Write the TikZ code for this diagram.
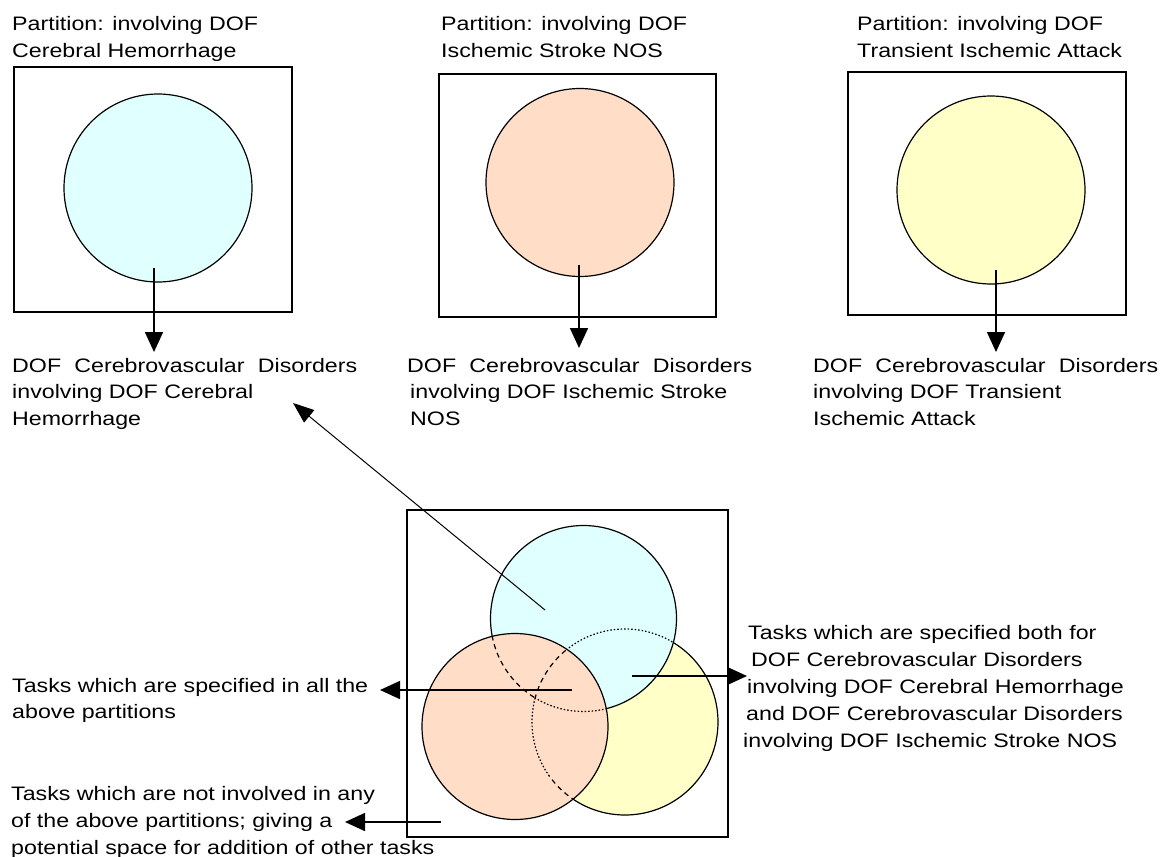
\documentclass[tikz,border=0pt]{standalone}
\usepackage{fontspec}
\setmainfont{Liberation Sans}[FakeStretch=1.19]
\usetikzlibrary{arrows.meta}
\definecolor{cblue}{RGB}{224,255,255}
\definecolor{corange}{RGB}{255,221,198}
\definecolor{cyellow}{RGB}{255,255,200}
\newcommand\lblfont{\fontsize{19.5pt}{26.8pt}\selectfont}
\tikzset{
  lbl/.style={inner sep=0pt, align=left, font=\lblfont, anchor=base west},
  framebox/.style={draw, line width=1.5pt, rectangle, inner sep=0pt},
  setcircle/.style={draw, line width=1.2pt, circle, inner sep=0pt, minimum size=188pt},
  arr/.style={line width=1.6pt, -{Triangle[length=20pt,width=18pt]}},
  thinarr/.style={line width=1pt, -{Triangle[length=21pt,width=16pt]}},
  solidedge/.style={line width=1.2pt},
  hiddendash/.style={line width=1.2pt, dash pattern=on 5pt off 4pt},
  hiddendot/.style={line width=1.2pt, dash pattern=on 1.5pt off 2pt},
}
\begin{document}
\begin{tikzpicture}[x=1pt,y=-1pt]
\useasboundingbox[fill=white] (0,0) rectangle (1163,857);

% ---- three partition panels (base anchor = baseline of last line) ----
\node[lbl] (h1) at (12,57) {Partition: involving DOF\\Cerebral Hemorrhage};
\node[lbl] (h2) at (441,57) {Partition: involving DOF\\Ischemic Stroke NOS};
\node[lbl] (h3) at (857,57) {Partition: involving DOF\\Transient Ischemic Attack};

\node[framebox, minimum width=278pt, minimum height=245pt] (p1) at (153,189.5) {};
\node[framebox, minimum width=277pt, minimum height=243pt] (p2) at (577.5,195.5) {};
\node[framebox, minimum width=278pt, minimum height=243pt] (p3) at (987,193.5) {};

\node[setcircle, fill=cblue] (c1) at (158,188) {};
\node[setcircle, fill=corange] (c2) at (580,182.5) {};
\node[setcircle, fill=cyellow] (c3) at (991,190) {};

\node[lbl] (t1) at (12,425.6) {\makebox[345pt][s]{DOF Cerebrovascular Disorders}\\involving DOF Cerebral\\Hemorrhage};
\node[lbl] (t2) at (407,425.6) {\makebox[345pt][s]{DOF Cerebrovascular Disorders}\\\hspace*{3pt}involving DOF Ischemic Stroke\\\hspace*{3pt}NOS};
\node[lbl] (t3) at (813,425.6) {\makebox[345pt][s]{DOF Cerebrovascular Disorders}\\involving DOF Transient\\Ischemic Attack};

\coordinate (s1) at (154,268); \coordinate (e1) at (154,352);
\coordinate (s2) at (579,265); \coordinate (e2) at (579,348);
\coordinate (s3) at (996,270); \coordinate (e3) at (996,352);
\draw[arr] (s1) -- (e1);
\draw[arr] (s2) -- (e2);
\draw[arr] (s3) -- (e3);

% ---- labels around the Venn diagram ----
\node[lbl] (lall) at (12,718.8) {Tasks which are specified in all the\\above partitions};
\node[lbl] (lboth) at (743,747) {\hspace*{5pt}Tasks which are specified both for\\\hspace*{8pt}DOF Cerebrovascular Disorders\\\hspace*{4pt}involving DOF Cerebral Hemorrhage\\\hspace*{3pt}and DOF Cerebrovascular Disorders\\involving DOF Ischemic Stroke NOS};
\node[lbl] (lnone) at (11,854) {Tasks which are not involved in any\\of the above partitions; giving a\\potential space for addition of other tasks};

% ---- Venn diagram ----
\node[framebox, minimum width=321pt, minimum height=327pt] (vbox) at (567.5,673.5) {};
\coordinate (B) at (583.5,618.5);
\coordinate (O) at (515,726.5);
\coordinate (Y) at (625,722);

\fill[cyellow] (Y) circle[radius=93];
\fill[cblue] (B) circle[radius=93];
\fill[corange] (O) circle[radius=93];

% hidden edge of yellow behind blue
\begin{scope}[even odd rule]
  \clip (B) circle[radius=93];
  \clip (O) circle[radius=93] (0,0) rectangle (1163,857);
  \draw[hiddendot] (Y) circle[radius=93];
\end{scope}
% hidden edge of yellow behind orange
\begin{scope}[even odd rule]
  \clip (O) circle[radius=93];
  \clip (0,700) rectangle (1163,776) (0,0) rectangle (1163,857);
  \draw[hiddendash] (Y) circle[radius=93];
\end{scope}
\begin{scope}
  \clip (O) circle[radius=93];
  \clip (0,700) rectangle (1163,776);
  \draw[hiddendot] (Y) circle[radius=93];
\end{scope}
% hidden edge of blue behind orange
\begin{scope}
  \clip (O) circle[radius=93];
  \clip (0,0) rectangle (535,857);
  \draw[hiddendash] (B) circle[radius=93];
\end{scope}
\begin{scope}
  \clip (O) circle[radius=93];
  \clip (535,0) rectangle (1163,857);
  \draw[hiddendot] (B) circle[radius=93];
\end{scope}

% visible edges
\begin{scope}[even odd rule]
  \clip (O) circle[radius=93] (0,0) rectangle (1163,857);
  \clip (B) circle[radius=93] (0,0) rectangle (1163,857);
  \draw[solidedge] (Y) circle[radius=93];
\end{scope}
\begin{scope}[even odd rule]
  \clip (O) circle[radius=93] (0,0) rectangle (1163,857);
  \draw[solidedge] (B) circle[radius=93];
\end{scope}
\draw[solidedge] (O) circle[radius=93];

% Venn arrows
\coordinate (ds) at (545,610); \coordinate (dt) at (293,403);
\coordinate (ls) at (572,690); \coordinate (lt) at (380,690);
\coordinate (rs) at (632,676); \coordinate (rt) at (747,676);
\coordinate (bs) at (441,822); \coordinate (bt) at (345,822);
\draw[thinarr] (ds) -- (dt);
\draw[arr] (ls) -- (lt);
\draw[arr] (rs) -- (rt);
\draw[arr] (bs) -- (bt);
\end{tikzpicture}
\end{document}
